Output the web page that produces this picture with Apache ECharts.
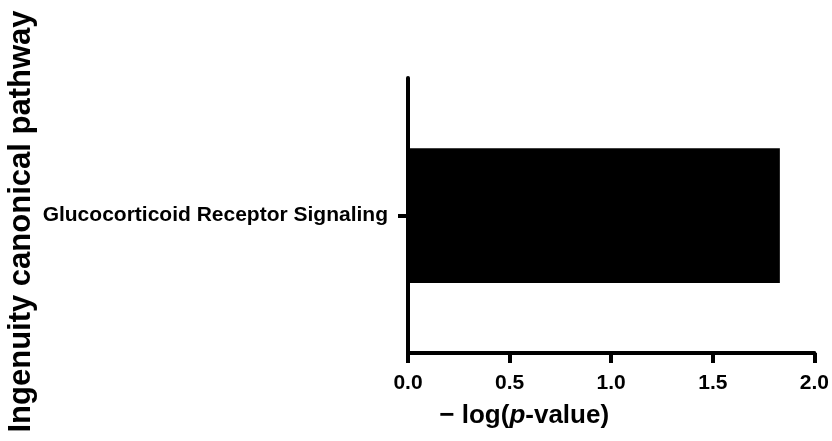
<!DOCTYPE html>
<html>
<head>
<meta charset="utf-8">
<script src="https://cdn.jsdelivr.net/npm/echarts@6/dist/echarts.min.js"></script>
<style>
    html, body { margin: 0; padding: 0; background: #fff; }
    #chart { width: 832px; height: 441px; }
</style>
</head>
<body>
<div id="chart"></div>
<script>
var pathways = ['Glucocorticoid Receptor Signaling'];
var logP = [1.83];
var xTicks = [0, 0.5, 1.0, 1.5, 2.0];

var chart = echarts.init(document.getElementById('chart'));
var font = 'Liberation Sans, Arial, Helvetica, sans-serif';

var option = {
    animation: false,
    backgroundColor: '#fff',
    grid: {
        left: 408,
        right: 15,
        top: 78,
        bottom: 88
    },
    xAxis: {
        type: 'value',
        min: xTicks[0],
        max: xTicks[xTicks.length - 1],
        interval: 0.5,
        splitLine: { show: false },
        axisLine: { show: true, lineStyle: { color: '#000', width: 4 } },
        axisTick: { show: true, length: 10, lineStyle: { color: '#000', width: 4 } },
        axisLabel: {
            margin: 20,
            color: '#000',
            fontFamily: font,
            fontWeight: 'bold',
            fontSize: 21,
            formatter: function (v) { return v.toFixed(1); }
        },
        name: '{a|\u2212 log(}{i|p}{a|-value)}',
        nameLocation: 'middle',
        nameGap: 50,
        nameTextStyle: {
            padding: [0, 174, 0, 0],
            rich: {
                a: { fontFamily: font, fontWeight: 'bold', fontSize: 26, color: '#000' },
                i: { fontFamily: font, fontWeight: 'bold', fontStyle: 'italic', fontSize: 26, color: '#000' }
            }
        }
    },
    yAxis: {
        type: 'category',
        data: pathways,
        axisLine: { show: true, lineStyle: { color: '#000', width: 4 } },
        axisTick: { show: true, alignWithLabel: true, length: 10, lineStyle: { color: '#000', width: 4 } },
        axisLabel: {
            margin: 20,
            color: '#000',
            fontFamily: font,
            fontWeight: 'bold',
            fontSize: 21
        },
        name: 'Ingenuity canonical pathway',
        nameLocation: 'middle',
        nameGap: 371,
        nameTextStyle: {
            color: '#000',
            fontFamily: font,
            fontWeight: 'bold',
            fontSize: 31,
            padding: [0, 12, 0, 0]
        }
    },
    series: [{
        type: 'bar',
        data: logP,
        barWidth: '49%',
        itemStyle: { color: '#000' }
    }]
};

chart.setOption(option);
</script>
</body>
</html>
